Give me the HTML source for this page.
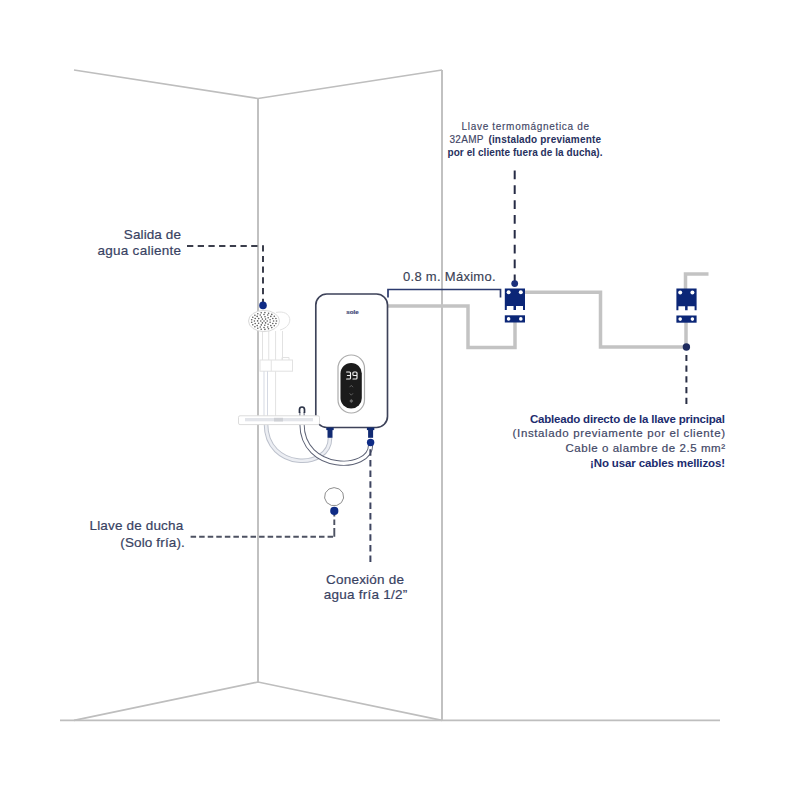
<!DOCTYPE html>
<html>
<head>
<meta charset="utf-8">
<style>
html,body{margin:0;padding:0;background:#fff;width:800px;height:800px;overflow:hidden;}
svg{display:block;}
text{font-family:"Liberation Sans",sans-serif;}
</style>
</head>
<body>
<svg width="800" height="800" viewBox="0 0 800 800">
<rect width="800" height="800" fill="#fff"/>

<!-- walls -->
<g fill="none" stroke="#bebebe" stroke-width="1.7">
  <polyline points="74,70 258,98.5 442,70"/>
  <line x1="258" y1="98.5" x2="258" y2="682" stroke-width="1.9"/>
  <line x1="442" y1="70" x2="442" y2="720.3" stroke-width="1.9"/>
  <polyline points="74,720.3 258,682 442,720.3"/>
  <line x1="60" y1="720.3" x2="720" y2="720.3"/>
</g>

<!-- gray cables -->
<g fill="none" stroke="#c3c3c3" stroke-width="3.5" stroke-linejoin="miter">
  <polyline points="388,306 468,306 468,347.5 515,347.5 515,322"/>
  <polyline points="525,292.3 600.5,292.3 600.5,347 686,347 686,322"/>
  <polyline points="685.5,289 685.5,274 708.5,274"/>
</g>

<!-- bracket 0.8m -->
<polyline points="388,297.5 388,289.5 500.5,289.5 500.5,297.5" fill="none" stroke="#2b3a6e" stroke-width="1.7"/>

<!-- shower (faint) -->
<g fill="none" stroke="#e2e2e2" stroke-width="1">
  <line x1="262.5" y1="331" x2="262.5" y2="360"/>
  <line x1="268.75" y1="331" x2="268.75" y2="360"/>
  <line x1="275.6" y1="331" x2="275.6" y2="416"/>
  <line x1="282.5" y1="331" x2="282.5" y2="360"/>
  <rect x="260" y="360" width="32.5" height="11.2" fill="#fff"/>
  <line x1="271.25" y1="360" x2="271.25" y2="371.2"/>
  <path d="M282,360 v-2.5 h7 v2.5"/>
  <path d="M276,312.5 C292,309 295,326 280,330"/>
</g>
<g fill="none" stroke="#d5d9e3" stroke-width="1">
  <line x1="264" y1="371.2" x2="264" y2="416"/>
  <line x1="267.5" y1="371.2" x2="267.5" y2="416"/>
</g>
<ellipse cx="264" cy="321" rx="15.5" ry="10.6" fill="#fff" stroke="#dadada" stroke-width="1"/>
<g fill="#5c5c5c"><circle cx="264" cy="321" r="0.8"/><circle cx="267.2" cy="321.0" r="0.8"/><circle cx="265.6" cy="322.9" r="0.8"/><circle cx="262.4" cy="322.9" r="0.8"/><circle cx="260.8" cy="321.0" r="0.8"/><circle cx="262.4" cy="319.1" r="0.8"/><circle cx="265.6" cy="319.1" r="0.8"/><circle cx="270.1" cy="322.3" r="0.8"/><circle cx="268.1" cy="324.3" r="0.8"/><circle cx="264.8" cy="325.3" r="0.8"/><circle cx="261.3" cy="324.9" r="0.8"/><circle cx="258.6" cy="323.3" r="0.8"/><circle cx="257.6" cy="320.9" r="0.8"/><circle cx="258.7" cy="318.6" r="0.8"/><circle cx="261.4" cy="317.1" r="0.8"/><circle cx="265.0" cy="316.7" r="0.8"/><circle cx="268.2" cy="317.8" r="0.8"/><circle cx="270.1" cy="319.8" r="0.8"/><circle cx="273.6" cy="321.0" r="0.8"/><circle cx="272.8" cy="323.5" r="0.8"/><circle cx="270.8" cy="325.6" r="0.8"/><circle cx="267.7" cy="327.0" r="0.8"/><circle cx="264.0" cy="327.5" r="0.8"/><circle cx="260.3" cy="327.0" r="0.8"/><circle cx="257.2" cy="325.6" r="0.8"/><circle cx="255.2" cy="323.5" r="0.8"/><circle cx="254.4" cy="321.0" r="0.8"/><circle cx="255.2" cy="318.5" r="0.8"/><circle cx="257.2" cy="316.4" r="0.8"/><circle cx="260.3" cy="315.0" r="0.8"/><circle cx="264.0" cy="314.5" r="0.8"/><circle cx="267.7" cy="315.0" r="0.8"/><circle cx="270.8" cy="316.4" r="0.8"/><circle cx="272.8" cy="318.5" r="0.8"/><circle cx="275.9" cy="323.5" r="0.8"/><circle cx="274.3" cy="325.8" r="0.8"/><circle cx="271.8" cy="327.6" r="0.8"/><circle cx="268.5" cy="328.8" r="0.8"/><circle cx="264.9" cy="329.4" r="0.8"/><circle cx="261.2" cy="329.2" r="0.8"/><circle cx="257.8" cy="328.3" r="0.8"/><circle cx="254.9" cy="326.7" r="0.8"/><circle cx="252.8" cy="324.7" r="0.8"/><circle cx="251.7" cy="322.2" r="0.8"/><circle cx="251.7" cy="319.7" r="0.8"/><circle cx="252.8" cy="317.3" r="0.8"/><circle cx="254.9" cy="315.3" r="0.8"/><circle cx="257.8" cy="313.7" r="0.8"/><circle cx="261.2" cy="312.8" r="0.8"/><circle cx="264.9" cy="312.6" r="0.8"/><circle cx="268.6" cy="313.2" r="0.8"/><circle cx="271.8" cy="314.4" r="0.8"/><circle cx="274.3" cy="316.3" r="0.8"/><circle cx="275.9" cy="318.5" r="0.8"/><circle cx="276.5" cy="321.0" r="0.8"/></g>

<!-- hoses -->
<path d="M266,424 C266,470.3 330,470.3 330,438" fill="none" stroke="#bcc1cc" stroke-width="4.6"/>
<path d="M266,424 C266,470.3 330,470.3 330,438" fill="none" stroke="#eceef3" stroke-width="2.6"/>
<path d="M302,412 L302,424 C302,472 370.6,472 370.6,445" fill="none" stroke="#5d6275" stroke-width="5.2"/>
<path d="M302,412 L302,424 C302,472 370.6,472 370.6,445" fill="none" stroke="#fff" stroke-width="3.3"/>
<path d="M299.5,413 L299.5,409.5 A2.5,2.5 0 0 1 304.5,409.5 L304.5,413" fill="none" stroke="#2c3348" stroke-width="1.7"/>

<!-- heater body -->
<rect x="315.8" y="294" width="71.7" height="133.5" rx="11" fill="#fff" stroke="#3d4259" stroke-width="1.65"/>
<text x="352.5" y="313.8" font-size="6.2" font-weight="bold" fill="#3d4574" stroke="#3d4574" stroke-width="0.2" text-anchor="middle">sole</text>
<rect x="338" y="355" width="26.5" height="58" rx="13.2" fill="#fff" stroke="#acacac" stroke-width="1.2"/>
<rect x="340.5" y="363" width="21.3" height="45.5" rx="10.6" fill="#1b1b1b"/>
<g fill="none" stroke="#f2f2f2" stroke-width="1.15" stroke-linecap="round" stroke-linejoin="round">
  <path d="M346.6,372 H349.4 Q350.5,372 350.5,373.1 V377.9 Q350.5,379 349.4,379 H346.6 M347.4,375.5 H350.3"/>
  <path d="M357,375.5 H354 Q352.9,375.5 352.9,374.4 V373.1 Q352.9,372 354,372 H355.9 Q357,372 357,373.1 V377.9 Q357,379 355.9,379 H353"/>
</g>
<g fill="none" stroke="#5e5e5e" stroke-width="1">
  <polyline points="349.6,387.2 351.3,385.3 353,387.2"/>
  <polyline points="349.6,393.3 351.3,395.2 353,393.3"/>
</g>
<rect x="349.9" y="399.6" width="2.8" height="2.8" fill="#6a6a6a" transform="rotate(45 351.3 401)"/>

<!-- shelf -->
<rect x="238.5" y="415.8" width="81" height="8.8" rx="1.5" fill="#fff" stroke="#dcdcdc" stroke-width="1"/>
<rect x="245" y="418" width="68" height="3.3" fill="#e3e5ea"/>
<rect x="274" y="417.8" width="9" height="3.7" fill="#cfd1d6"/>

<!-- connectors -->
<g fill="#112a72">
  <rect x="326.3" y="427.5" width="7.4" height="2.6"/>
  <rect x="327.5" y="429.5" width="5" height="8.3"/>
  <rect x="366.9" y="427.5" width="7.4" height="2.6"/>
  <rect x="368.1" y="429.5" width="5" height="8.3"/>
</g>

<!-- dashed leaders -->
<g fill="none" stroke-width="2">
  <line x1="187" y1="246" x2="258" y2="246" stroke="#3b3e4c" stroke-dasharray="6.3 4.4"/>
  <line x1="263" y1="245.2" x2="263" y2="302" stroke="#3b3e4c" stroke-dasharray="6.2 4.5"/>
  <line x1="190.6" y1="536.8" x2="334.3" y2="536.8" stroke="#4d5262" stroke-width="1.9" stroke-dasharray="5.5 3.06"/>
  <line x1="334.3" y1="536.8" x2="334.3" y2="514" stroke="#4d5262" stroke-width="1.9" stroke-dasharray="8.8 3 5.5 3 5"/>
  <line x1="370.4" y1="449.3" x2="370.4" y2="562" stroke="#3e4560" stroke-dasharray="6.5 4.13"/>
  <line x1="514.7" y1="170.5" x2="514.7" y2="281" stroke="#262b45" stroke-dasharray="8.7 6.15"/>
  <line x1="686.4" y1="354.9" x2="686.4" y2="404" stroke="#2a2f45" stroke-dasharray="6.2 4.5"/>
</g>

<!-- dots -->
<g fill="#0f2c86">
  <circle cx="263" cy="305.4" r="3.8"/>
  <circle cx="334.3" cy="510.9" r="4.1"/>
  <circle cx="370.6" cy="442.5" r="3.7"/>
  <circle cx="514.7" cy="283.6" r="3.4" fill="#1a2f7c"/>
  <circle cx="686.4" cy="347" r="3.7" fill="#1e2b5e"/>
</g>

<!-- shower knob -->
<polygon points="334.10,487.60 339.29,489.04 342.83,492.92 343.60,498.00 341.36,502.66 336.80,505.43 331.40,505.43 326.84,502.66 324.60,498.00 325.37,492.92 328.91,489.04" fill="#fff" stroke="#8f8f8f" stroke-width="1" stroke-linejoin="round"/>

<!-- breakers -->
<g id="brk">
  <path d="M504.8,288.4 H525 V310 H523 V306 H516 V310 H513.5 V306 H506.8 V310 H504.8 Z" fill="#0b2677"/>
  <rect x="504.8" y="315.3" width="20.2" height="7.2" fill="#0b2677"/>
  <g fill="#fff">
    <circle cx="508.6" cy="292.2" r="2"/><circle cx="520.8" cy="292.2" r="2"/>
    <circle cx="508.6" cy="318.9" r="1.8"/><circle cx="520.8" cy="318.9" r="1.8"/>
  </g>
</g>
<use href="#brk" x="171.6" y="0.2"/>

<!-- texts -->
<g fill="#384262" stroke="#384262" stroke-width="0.2" font-size="13.5">
  <text x="123.8" y="239.4" textLength="57.2" lengthAdjust="spacing">Salida de</text>
  <text x="97.5" y="255.3" textLength="83.5" lengthAdjust="spacing">agua caliente</text>
  <text x="89.5" y="530.3" textLength="93.7" lengthAdjust="spacing">Llave de ducha</text>
  <text x="120.3" y="546.8" textLength="64.5" lengthAdjust="spacing">(Solo fría).</text>
  <text x="326" y="583.5" textLength="78" lengthAdjust="spacing">Conexión de</text>
  <text x="323.8" y="599.4" textLength="83.5" lengthAdjust="spacing">agua fría 1/2”</text>
</g>
<text x="403" y="281.4" font-size="13" fill="#3a3f55" stroke="#3a3f55" stroke-width="0.15" textLength="92.6" lengthAdjust="spacing">0.8 m. Máximo.</text>

<g font-size="10">
  <text x="461.5" y="130" fill="#3f4766" stroke="#3f4766" stroke-width="0.15" textLength="127.6" lengthAdjust="spacing">Llave termomágnetica de</text>
  <text x="449.5" y="143" fill="#3f4766" stroke="#3f4766" stroke-width="0.15" textLength="34" lengthAdjust="spacing">32AMP</text>
  <text x="488.4" y="143" fill="#27315e" font-weight="bold" textLength="112.6" lengthAdjust="spacing">(instalado previamente</text>
  <text x="447.5" y="156" fill="#27315e" font-weight="bold" textLength="155" lengthAdjust="spacing">por el cliente fuera de la ducha).</text>
</g>

<g font-size="11.5">
  <text x="530" y="422.5" fill="#1c2c6e" font-weight="bold" textLength="195" lengthAdjust="spacing">Cableado directo de la llave principal</text>
  <text x="512.6" y="437.2" fill="#3f4766" stroke="#3f4766" stroke-width="0.2" textLength="212.4" lengthAdjust="spacing">(Instalado previamente por el cliente)</text>
  <text x="565.4" y="451.8" fill="#3f4766" stroke="#3f4766" stroke-width="0.2" textLength="159.6" lengthAdjust="spacing">Cable o alambre de 2.5 mm²</text>
  <text x="590" y="466.5" fill="#1c2c6e" font-weight="bold" textLength="135" lengthAdjust="spacing">¡No usar cables mellizos!</text>
</g>
</svg>
</body>
</html>
